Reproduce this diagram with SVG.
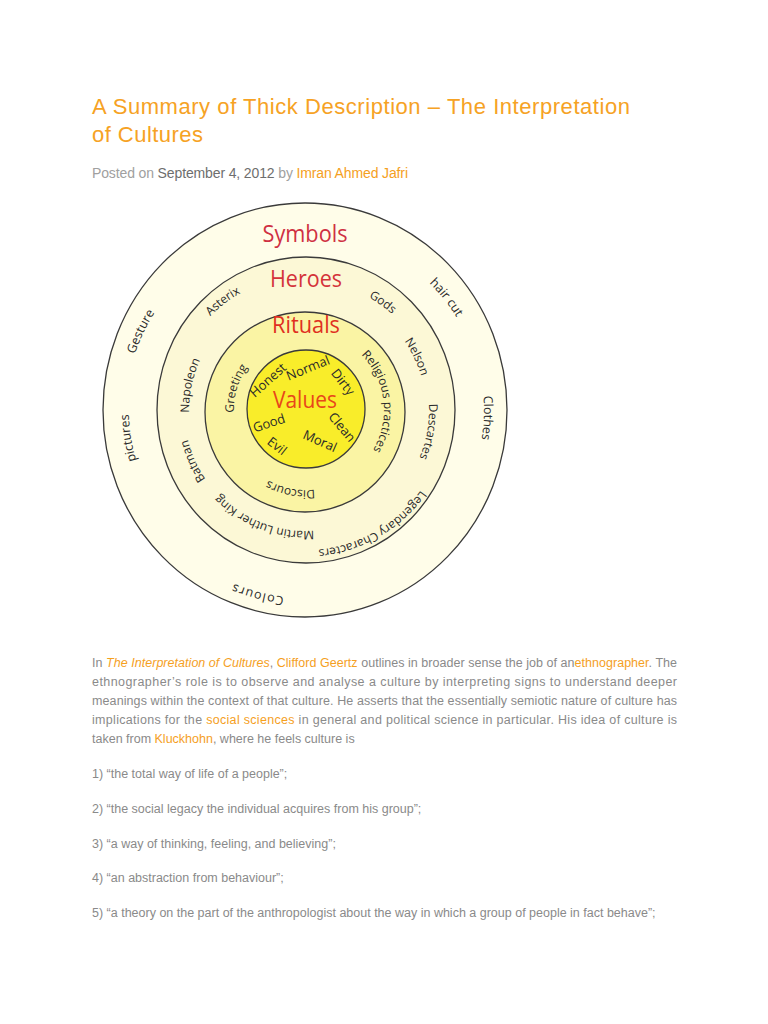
<svg xmlns="http://www.w3.org/2000/svg" width="768" height="1024" viewBox="0 0 768 1024">
<style>
.ring{stroke:#3a3a3a;stroke-width:1.3}
.lbl{font-family:"Open Sans","Noto Sans",sans-serif;fill:#2a2a2a;text-anchor:middle}
.o{font-size:12.5px}
.h{font-size:12px}
.r{font-size:12px}
.v{font-size:13px}
.head{font-family:"Open Sans","Noto Sans",sans-serif;font-size:23px;text-anchor:middle}
.page{font-family:"Liberation Sans",Arial,sans-serif}
.body{font-size:12.5px;fill:#8a8a8a}
.lnk{fill:#f5a01e}
</style>
<defs>
<path id="pGesture" d="M201.7,556.7 A180,180 0 0 1 353.8,236.5"/>
<path id="pHair" d="M221.0,254.8 A177,177 0 0 1 439.0,526.8"/>
<path id="pClothes" d="M344.5,236.2 A178,178 0 0 1 329.2,586.5"/>
<path id="pPictures" d="M302.9,587.0 A177,177 0 0 1 248.4,242.6"/>
<path id="pColours" d="M476.7,488.9 A188,188 0 0 1 118.7,394.3"/>
<path id="pAsterix" d="M187.0,471.7 A134,134 0 0 1 396.7,311.4"/>
<path id="pGods" d="M215.6,318.0 A129,129 0 0 1 422.4,465.5"/>
<path id="pNapoleon" d="M262.2,518.5 A117,117 0 0 1 310.1,293.1"/>
<path id="pBatman" d="M336.1,528.2 A122,122 0 0 1 237.3,309.2"/>
<path id="pNelson" d="M273.5,294.5 A120,120 0 0 1 376.0,507.5"/>
<path id="pDescartes" d="M348.1,294.4 A123,123 0 0 1 306,533"/>
<path id="pMLK" d="M409.7,472.3 A121,121 0 0 1 187.2,386.9"/>
<path id="pLegend" d="M437.6,362.1 A140,140 0 0 1 198.8,500.0"/>
<path id="pGreeting" d="M273.3,474.2 A72,72 0 0 1 314.8,338.5"/>
<path id="pReligious" d="M310.1,332.1 A78,78 0 0 1 328.8,484.6"/>
<path id="pDiscours" d="M380.7,438.7 A80,80 0 0 1 226.0,408.6"/>
</defs>
<rect width="768" height="1024" fill="#ffffff"/>

<g id="header" class="page">
<text x="92" y="114" font-size="22" fill="#f6a224" textLength="538">A Summary of Thick Description – The Interpretation</text>
<text x="92" y="142" font-size="22" fill="#f6a224" textLength="111">of Cultures</text>
<text x="92" y="178" font-size="14" fill="#a0a0a0" textLength="316">Posted on <tspan fill="#6e6e6e">September 4, 2012</tspan> by <tspan fill="#f5a01e">Imran Ahmed Jafri</tspan></text>
</g>

<g id="symbols">
<ellipse class="ring" cx="305" cy="410" rx="202" ry="207" fill="#fffde9"/>
<text class="head" x="305" y="242" fill="#cf3042" textLength="85" lengthAdjust="spacingAndGlyphs">Symbols</text>
<text class="lbl o"><textPath href="#pGesture" startOffset="50%">Gesture</textPath></text>
<text class="lbl o"><textPath href="#pHair" startOffset="50%">hair cut</textPath></text>
<text class="lbl o"><textPath href="#pClothes" startOffset="50%">Clothes</textPath></text>
<text class="lbl o"><textPath href="#pPictures" startOffset="50%">pictures</textPath></text>
<text class="lbl o" letter-spacing="1.2"><textPath href="#pColours" startOffset="50%">Colours</textPath></text>
</g>

<g id="heroes">
<ellipse class="ring" cx="306" cy="410" rx="149" ry="153" fill="#fcf8d6"/>
<text class="head" x="306" y="287" fill="#d4333a" textLength="72" lengthAdjust="spacingAndGlyphs">Heroes</text>
<text class="lbl h"><textPath href="#pAsterix" startOffset="50%">Asterix</textPath></text>
<text class="lbl h"><textPath href="#pGods" startOffset="50%">Gods</textPath></text>
<text class="lbl h"><textPath href="#pNapoleon" startOffset="50%">Napoleon</textPath></text>
<text class="lbl h"><textPath href="#pBatman" startOffset="50%">Batman</textPath></text>
<text class="lbl h"><textPath href="#pNelson" startOffset="50%">Nelson</textPath></text>
<text class="lbl h"><textPath href="#pDescartes" startOffset="50%">Descartes</textPath></text>
<text class="lbl h"><textPath href="#pMLK" startOffset="50%">Martin Luther King</textPath></text>
<text class="lbl h"><textPath href="#pLegend" startOffset="50%">Legendary Characters</textPath></text>
</g>

<g id="rituals">
<circle class="ring" cx="305" cy="412" r="100" fill="#faf4a4"/>
<text class="head" x="306" y="333" fill="#e0301f" textLength="68" lengthAdjust="spacingAndGlyphs">Rituals</text>
<text class="lbl r"><textPath href="#pGreeting" startOffset="50%">Greeting</textPath></text>
<text class="lbl r"><textPath href="#pReligious" startOffset="50%">Religious practices</textPath></text>
<text class="lbl r"><textPath href="#pDiscours" startOffset="50%">Discours</textPath></text>
</g>

<g id="values">
<circle class="ring" cx="306" cy="409" r="59" fill="#f9ed2a"/>
<text class="head" x="305" y="408" font-size="21" fill="#e8461a" textLength="64" lengthAdjust="spacingAndGlyphs">Values</text>
<text class="lbl v" transform="translate(268,380) rotate(-42)" y="4.5">Honest</text>
<text class="lbl v" transform="translate(308,368) rotate(-22)" y="4.5">Normal</text>
<text class="lbl v" transform="translate(343,382) rotate(52)" y="4.5">Dirty</text>
<text class="lbl v" transform="translate(269,423) rotate(-18)" y="4.5">Good</text>
<text class="lbl v" transform="translate(277,446) rotate(38)" y="4.5">Evil</text>
<text class="lbl v" transform="translate(320,441) rotate(24)" y="4.5">Moral</text>
<text class="lbl v" transform="translate(342,427) rotate(50)" y="4.5">Clean</text>
</g>

<g id="connectors"/>

<g id="article" class="page body">
<text x="92" y="667" textLength="585">In <tspan class="lnk" font-style="italic">The Interpretation of Cultures</tspan>, <tspan class="lnk">Clifford Geertz</tspan> outlines in broader sense the job of an<tspan class="lnk">ethnographer</tspan>. The</text>
<text x="92" y="686" textLength="585">ethnographer’s role is to observe and analyse a culture by interpreting signs to understand deeper</text>
<text x="92" y="705" textLength="585">meanings within the context of that culture. He asserts that the essentially semiotic nature of culture has</text>
<text x="92" y="724" textLength="585">implications for the <tspan class="lnk">social sciences</tspan> in general and political science in particular.  His idea of culture is</text>
<text x="92" y="743">taken from <tspan class="lnk">Kluckhohn</tspan>, where he feels culture is</text>
<text x="92" y="778">1) “the total way of life of a people”;</text>
<text x="92" y="813">2) “the social legacy the individual acquires from his group”;</text>
<text x="92" y="848">3) “a way of thinking, feeling, and believing”;</text>
<text x="92" y="882">4) “an abstraction from behaviour”;</text>
<text x="92" y="917">5) “a theory on the part of the anthropologist about the way in which a group of people in fact behave”;</text>
</g>
</svg>
